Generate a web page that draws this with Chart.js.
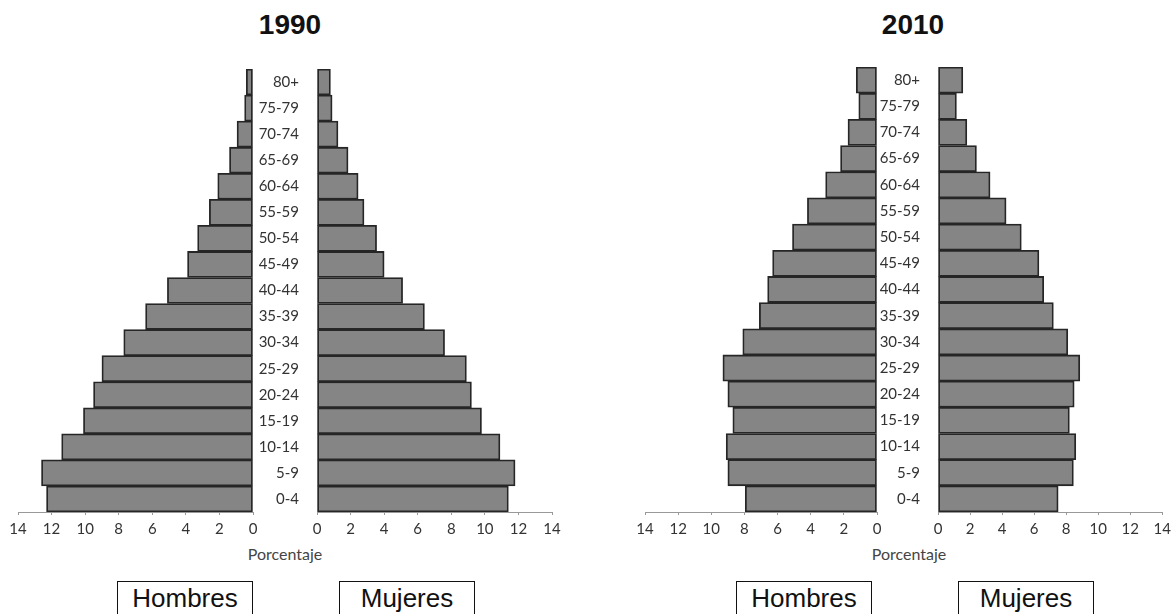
<!DOCTYPE html>
<html>
<head>
<meta charset="utf-8">
<script src="https://cdn.jsdelivr.net/npm/chart.js@4.4.1/dist/chart.umd.min.js"></script>
<style>
  body { margin: 0; background: #fff; width: 1176px; height: 614px; overflow: hidden; position: relative; font-family: "Liberation Sans", Arial, sans-serif; }
  .box { position: absolute; }
  .title { position: absolute; top: 11px; width: 120px; margin-left: -60px; text-align: center; font-size: 28px; line-height: 28px; font-weight: bold; color: #111; }
  .xlabel { position: absolute; top: 545px; width: 120px; margin-left: -60px; text-align: center; font-family: Lato, sans-serif; font-size: 16px; line-height: 18px; color: #444; }
  .legend { position: absolute; top: 581px; width: 134px; height: 40px; border: 1.5px solid #111; text-align: center; font-size: 26px; line-height: 30px; color: #111; }
  .legend span { display: block; margin-top: 1px; }
</style>
</head>
<body>

<div class="title" style="left:290px;">1990</div>
<div class="title" style="left:913px;">2010</div>

<div class="box" style="left:0px;top:0px;width:270px;height:542px;"><canvas id="h1990"></canvas></div>
<div class="box" style="left:250px;top:0px;width:320px;height:542px;"><canvas id="m1990"></canvas></div>
<div class="box" style="left:620px;top:0px;width:270px;height:542px;"><canvas id="h2010"></canvas></div>
<div class="box" style="left:880px;top:0px;width:296px;height:542px;"><canvas id="m2010"></canvas></div>

<div class="xlabel" style="left:285px;">Porcentaje</div>
<div class="xlabel" style="left:909px;">Porcentaje</div>

<div class="legend" style="left:117px;"><span>Hombres</span></div>
<div class="legend" style="left:339px;"><span>Mujeres</span></div>
<div class="legend" style="left:736px;"><span>Hombres</span></div>
<div class="legend" style="left:958px;"><span>Mujeres</span></div>

<script>
// age groups, youngest first (y axis is reversed so 80+ sits on top)
const ageGroups = ['0-4', '5-9', '10-14', '15-19', '20-24', '25-29', '30-34', '35-39', '40-44',
  '45-49', '50-54', '55-59', '60-64', '65-69', '70-74', '75-79', '80+'];

// percentages
const hombres1990 = [12.3, 12.6, 11.4, 10.1, 9.5, 9.0, 7.7, 6.4, 5.1, 3.9, 3.3, 2.6, 2.1, 1.4, 0.95, 0.5, 0.4];
const mujeres1990 = [11.4, 11.8, 10.9, 9.8, 9.2, 8.9, 7.6, 6.4, 5.1, 4.0, 3.55, 2.8, 2.45, 1.85, 1.25, 0.9, 0.8];
const hombres2010 = [7.95, 9.0, 9.1, 8.7, 9.0, 9.3, 8.1, 7.1, 6.6, 6.3, 5.1, 4.2, 3.1, 2.2, 1.75, 1.1, 1.25];
const mujeres2010 = [7.5, 8.45, 8.6, 8.2, 8.5, 8.85, 8.1, 7.2, 6.6, 6.3, 5.2, 4.25, 3.25, 2.4, 1.8, 1.15, 1.55];

const axisMax = 14;
const axisStep = 2;

const barFill = '#858585';
const barEdge = '#262626';
const tickFont = { family: 'Lato, sans-serif', size: 15 };

function renderHalf(id, values, opts) {
  const ctx = document.getElementById(id);
  return new Chart(ctx, {
    type: 'bar',
    data: {
      labels: ageGroups,
      datasets: [{
        data: values,
        backgroundColor: barFill,
        borderColor: barEdge,
        borderWidth: 1.8,
        borderSkipped: false,
        barPercentage: 1,
        categoryPercentage: 1
      }]
    },
    options: {
      indexAxis: 'y',
      responsive: true,
      maintainAspectRatio: false,
      animation: false,
      layout: { padding: opts.padding },
      plugins: { legend: { display: false }, tooltip: { enabled: false } },
      scales: {
        x: {
          min: 0,
          max: axisMax,
          reverse: opts.reverse,
          afterFit: (s) => { s.height = 30; },
          ticks: { stepSize: axisStep, color: '#333', font: tickFont, padding: 5, maxRotation: 0, autoSkip: false },
          grid: { display: true, drawOnChartArea: false, drawTicks: true, tickLength: 3, color: '#999' },
          border: { display: true, color: '#999', width: 1 }
        },
        y: {
          reverse: true,
          display: opts.showAges,
          afterFit: (s) => { if (opts.agesWidth) s.width = opts.agesWidth; },
          ticks: { color: '#333', font: tickFont, padding: 10 },
          grid: { display: false },
          border: { display: false }
        }
      }
    }
  });
}

renderHalf('h1990', hombres1990, { reverse: true, showAges: false, padding: { left: 18, right: 17, top: 69, bottom: 0 } });
renderHalf('m1990', mujeres1990, { reverse: false, showAges: true, agesWidth: 67, padding: { left: 0, right: 18, top: 69, bottom: 0 } });
renderHalf('h2010', hombres2010, { reverse: true, showAges: false, padding: { left: 25, right: 13, top: 67, bottom: 0 } });
renderHalf('m2010', mujeres2010, { reverse: false, showAges: true, agesWidth: 58, padding: { left: 0, right: 10, top: 67, bottom: 0 } });
</script>
</body>
</html>
